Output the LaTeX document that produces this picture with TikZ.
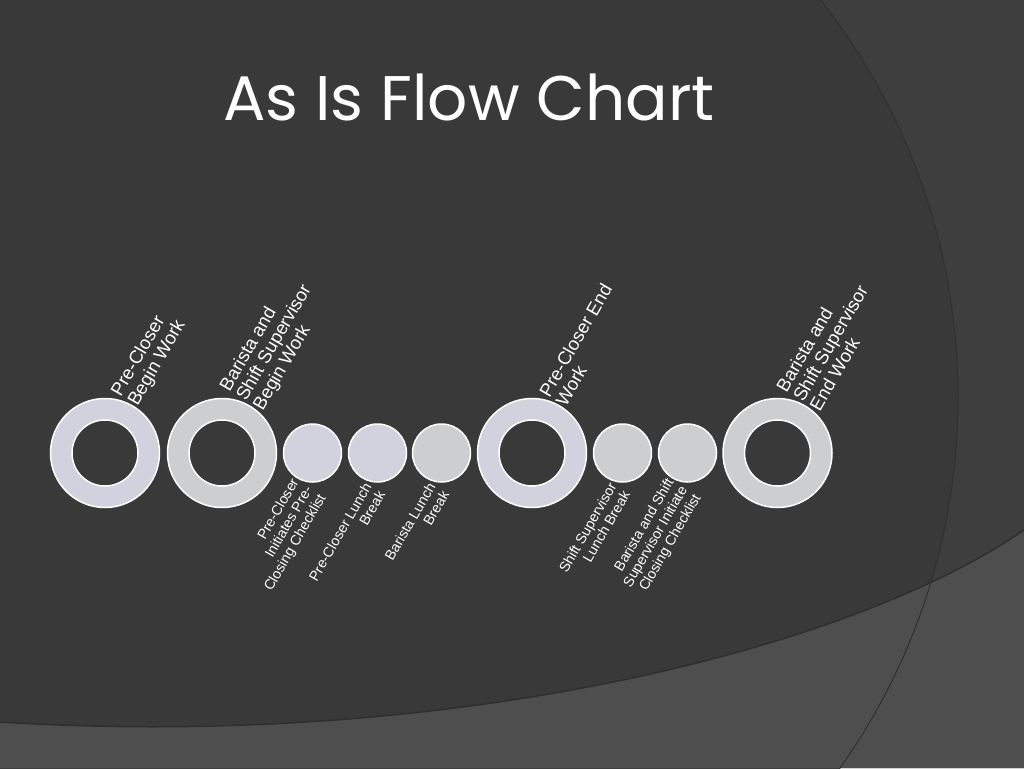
\documentclass[tikz,border=0pt]{standalone}
\usepackage{fontspec}
\setmainfont{Liberation Sans}
\newfontfamily\titleface{Poppins}

\definecolor{slidebg}{RGB}{57,57,57}
\definecolor{slideside}{RGB}{62,62,62}
\definecolor{slideband}{RGB}{78,78,78}
\definecolor{edgedark}{RGB}{47,47,47}
\definecolor{ringlav}{RGB}{210,209,222}
\definecolor{ringgrey}{RGB}{204,206,208}

\begin{document}
\begin{tikzpicture}[x=1pt, y=-1pt,
    bigring/.style={circle, draw=white, line width=1.5pt, minimum size=109pt, inner sep=0pt},
    hole/.style={circle, draw=white, fill=slidebg, line width=1.5pt, minimum size=66pt, inner sep=0pt},
    dot/.style={circle, draw=white, line width=1.5pt, minimum size=58pt, inner sep=0pt},
    toplabel/.style={text=white, rotate=60, anchor=west, align=left, inner sep=0pt,
        font=\fontsize{18.5}{19.2}\selectfont},
    botlabel/.style={text=white, rotate=60, anchor=east, align=right, inner sep=0pt,
        font=\fontsize{14.2}{15.6}\selectfont}]
    \useasboundingbox (0,0) rectangle (1024,768);

    % Slide background
    \begin{scope}
        \clip (0,0) rectangle (1024,768);
        \fill[slidebg] (0,0) rectangle (1024,768);
        \fill[slideside, even odd rule] (0,0) rectangle (1024,768) (316,397) circle (642);
        \fill[slideband] (0,722) .. controls (450,750) and (850,650) .. (1024,530) -- (1024,768) -- (0,768) -- cycle;
        \draw[edgedark, line width=1pt] (316,397) circle (642);
        \draw[edgedark, line width=1.5pt] (0,722) .. controls (450,750) and (850,650) .. (1024,530);
    \end{scope}

    % Title
    \node[text=white, anchor=base, font=\titleface\fontsize{63}{70}\selectfont] (title) at (469,120) {As Is Flow Chart};

    % Big rings
    \node[bigring, fill=ringlav] (preBegin) at (105,453) {};
    \node[bigring, fill=ringgrey] (teamBegin) at (222,453) {};
    \node[bigring, fill=ringlav] (preEnd) at (532,453) {};
    \node[bigring, fill=ringgrey] (teamEnd) at (777.5,453) {};
    \node[hole] (preBeginHole) at (preBegin) {};
    \node[hole] (teamBeginHole) at (teamBegin) {};
    \node[hole] (preEndHole) at (preEnd) {};
    \node[hole] (teamEndHole) at (teamEnd) {};

    % Small steps
    \node[dot, fill=ringlav] (preCheck) at (312.5,453) {};
    \node[dot, fill=ringlav] (preLunch) at (377.5,453) {};
    \node[dot, fill=ringgrey] (baristaLunch) at (441.5,453) {};
    \node[dot, fill=ringgrey] (shiftLunch) at (622.5,453) {};
    \node[dot, fill=ringgrey] (teamCheck) at (687.5,453) {};

    % Labels above the rings
    \node[toplabel] (preBeginText) at ([xshift=20pt,yshift=-2pt]preBegin.north) {Pre-Closer\\Begin Work};
    \node[toplabel] (teamBeginText) at ([xshift=20pt,yshift=-2pt]teamBegin.north) {Barista and\\Shift Supervisor\\Begin Work};
    \node[toplabel] (preEndText) at ([xshift=20pt,yshift=-2pt]preEnd.north) {Pre-Closer End\\Work};
    \node[toplabel] (teamEndText) at ([xshift=20pt,yshift=-2pt]teamEnd.north) {Barista and\\Shift Supervisor\\End Work};

    % Labels below the small steps
    \node[botlabel] (preCheckText) at ([xshift=-3pt,yshift=-5pt]preCheck.south) {Pre-Closer\\Initiates Pre-\\Closing Checklist};
    \node[botlabel] (preLunchText) at ([xshift=-3pt,yshift=-5pt]preLunch.south) {Pre-Closer Lunch\\Break};
    \node[botlabel] (baristaLunchText) at ([xshift=-3pt,yshift=-5pt]baristaLunch.south) {Barista Lunch\\Break};
    \node[botlabel] (shiftLunchText) at ([xshift=-3pt,yshift=-5pt]shiftLunch.south) {Shift Supervisor\\Lunch Break};
    \node[botlabel] (teamCheckText) at ([xshift=-3pt,yshift=-5pt]teamCheck.south) {Barista and Shift\\Supervisor Initiate\\Closing Checklist};
\end{tikzpicture}
\end{document}
